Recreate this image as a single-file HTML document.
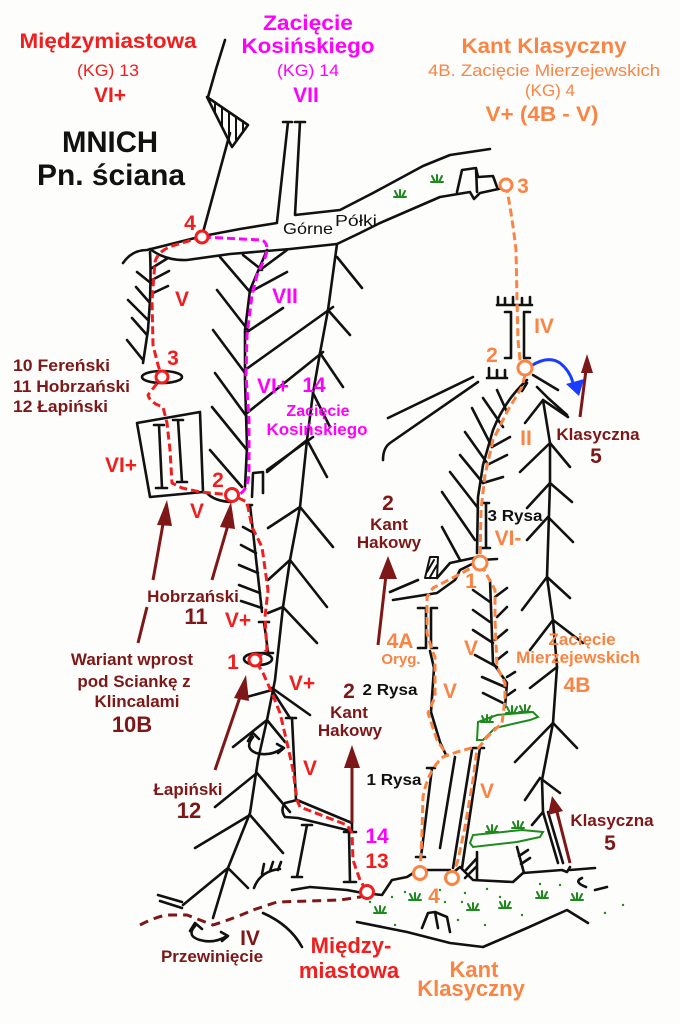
<!DOCTYPE html>
<html><head><meta charset="utf-8"><style>
html,body{margin:0;padding:0;background:#fdfdfb;}
svg{display:block;}
text{font-family:"Liberation Sans",Arial,sans-serif;font-weight:bold;}
.r{fill:#f01e1e}.m{fill:#f0f}.o{fill:#f98444}.d{fill:#7e1717}.k{fill:#111}
</style></head><body>
<svg width="680" height="1024" viewBox="0 0 680 1024" xmlns="http://www.w3.org/2000/svg">
<rect width="680" height="1024" fill="#fdfdfb"/>

<!-- black rock lines -->
<g fill="none" stroke="#111" stroke-width="2.6" stroke-linecap="round" stroke-linejoin="round">
<!-- summit -->
<path d="M225,40 Q216,68 208,97"/>
<path d="M207,97 L248,125 L232,147 Z"/>
<path d="M215,102 L215,113 M222,107 L222,127 M229,112 L229,141 M236,117 L236,141 M243,121 L243,132" stroke-width="2"/>
<path d="M230,133 L202,236"/>
<!-- Górne pillars -->
<path d="M283,122 L292,122 M288,122 L277,222"/>
<path d="M295,122 L305,122 M300,122 L295,215 L340,210 L373,193 L423,166 L450,155 L490,149"/>
<!-- ledge upper -->
<path d="M123,263 Q132,250 147,250 L203,236 L240,229 L277,223"/>
<!-- ledge lower -->
<path d="M150,249 Q166,261 187,260 L230,254 L290,249 L337,244 L360,233 L380,223 L440,197 L470,192 L474,199 L480,193 L503,188"/>
<!-- castle -->
<path d="M457,192 L462,170 L476,168 L478,177 L493,176 L497,187 M476,168 L477,192"/>

<!-- left herringbone along red route -->
<path d="M150,252 Q151,270 150,300 L148,330 L143,363"/>
<path d="M137,272 L152,284 M136,287 L150,303 M128,300 L148,320 M132,318 L147,335 M127,340 L143,360"/>
<path d="M152,268 L168,258 M152,280 L169,271 M151,294 L168,286"/>

<!-- magenta spine + herringbone -->
<path d="M267,250 L250,290 L245,330 L245,380 L247,447 L245,487"/>
<path d="M220,257 L250,292 M217,290 L248,330 M213,330 L245,373 M215,373 L247,417 M212,407 L247,450 M210,450 L242,487"/>
<path d="M243,255 L262,270 M260,270 L287,250 M250,292 L287,272 M247,332 L283,308 M245,370 L333,307 M247,413 L323,352 M267,470 L313,437"/>

<!-- big tree trunk -->
<path d="M337,244 L328,310 L320,353 L313,393 L307,440 L300,507 L290,560 L283,607 L275,680 L267,720 L258,760 L250,813 L228,868 L213,918"/>
<path d="M337,257 L362,288 M328,310 L350,335 M320,353 L343,387 M313,393 L330,427
M307,440 L327,477 M307,440 L267,472
M300,507 L333,547 M300,507 L268,528
M290,560 L327,607 M290,560 L268,580
M283,607 L317,643 M283,607 L268,613
M272,688 L310,715 M272,690 L243,698 M272,690 L290,718
M267,720 L285,742 M267,720 L233,747
M257,773 L290,812 M257,773 L215,807
M250,815 L283,853 M250,815 L195,848
M228,868 L248,888 M228,868 L183,905"/>
<path d="M286,718 L296,718"/>

<!-- red route spine 2-1 -->
<path d="M247,505 L252,505 M250,505 L262,612"/>
<path d="M241,545 L256,553 M239,565 L258,573 M239,585 L260,593 M241,601 L262,608 M243,527 L254,533"/>
<path d="M259,622 L269,622 M264,622 L268,652 M262,653 L273,653"/>
<path d="M252,497 L253,473 L263,472 L263,493"/>
<path d="M207,493 Q214,501 231,502"/>
<!-- box -->
<path d="M137,423 L200,412 L203,492 L150,497 Z"/>
<path d="M154,425 L164,425 M159,425 L162,488 M156,488 L167,488 M173,420 L183,420 M178,420 L182,482 M177,482 L187,482"/>
<!-- ovals -->
<ellipse cx="162" cy="377" rx="20" ry="6"/>
<ellipse cx="258" cy="659" rx="14" ry="6"/>

<!-- slab and brackets bottom left -->
<path d="M285,803 L297,800 L352,823 L352,830 L347,830 L298,818 L285,817 Q280,810 285,803 Z"/>
<path d="M292,718 L296,800"/>
<path d="M302,825 L312,825 M307,825 L297,877 M292,877 L302,877"/>
<path d="M344,832 L356,832 M349,832 L350,882 M344,882 L356,882"/>
<!-- ground -->
<path d="M292,890 L310,887 L347,890 L363,893 L382,895 L392,880 L407,877 L415,872 L420,871"/>
<path d="M425,870 L450,870"/>
<path d="M455,871 L460,867 L473,880 L513,882 L523,873 L562,870 L567,872 L570,867 M570,870 L595,868"/>
<path d="M582,878 Q573,882 586,887 M595,890 L607,887"/>
<path d="M357,922 L407,932 L450,943 L483,947 L527,928 L567,910 L588,923"/>
<path d="M422,928 L428,913 L435,912 L438,928 M435,912 L447,917 L450,932"/>
<path d="M477,852 L477,880 M466,870 L477,858 M465,878 L477,866"/>
<path d="M517,847 L524,873 M519,856 L528,850 M521,864 L530,858"/>
<!-- other bottom-left -->
<path d="M158,895 L182,902 M160,901 L182,908"/>
<path d="M263,913 Q290,925 302,947"/>
<path d="M254,888 Q260,871 280,869 M262,874 L264,864 M270,871 L273,862 M278,870 L281,862"/>
<!-- swirls -->
<path d="M253,737 Q244,748 256,753 Q270,757 283,748 M248,741 L253,733 L259,739 M277,744 L284,748 L278,753"/>
<path d="M195,926 Q186,936 200,940 Q214,944 227,936 M190,931 L195,923 L202,929 M221,932 L228,936 L222,941"/>

<!-- Kant column -->
<path d="M390,592 L418,580"/>
<path d="M393,600 L437,593 L455,580 L460,570 L480,560 L497,559"/>
<path d="M425,578 L430,557 L438,557 L437,578 Z M427,572 L434,560 M430,577 L437,565" stroke-width="2"/>
<path d="M437,578 L450,563 L478,557"/>
<path d="M418,608 L426,608 L426,648 L418,648 M437,608 L431,608 L431,648 L437,648"/>
<path d="M430,651 L434,668 L431,712 L440,742 L446,755"/>
<path d="M455,757 L440,848 M472,750 L453,868 M480,748 L462,868 M473,748 L484,748"/>
<path d="M427,768 L435,768 M432,768 L421,857 M416,857 L425,857"/>
<!-- Kant spine 2-1 -->
<path d="M527,380 Q505,400 493,430 L483,465 L478,497 L477,553"/>
<path d="M497,390 L507,412 M483,398 L503,427 M472,408 L492,447 M465,432 L487,463 M460,455 L483,483 M450,472 L478,508 M442,492 L475,540 M442,527 L460,560"/>
<path d="M492,447 L510,437 M487,465 L507,455 M483,483 L503,477"/>
<path d="M483,503 L489,503 M486,503 L486,548 M481,548 L490,548"/>
<!-- spine 1-lower -->
<path d="M490,580 L493,663 L507,683 L505,707"/>
<path d="M473,590 L490,602 M473,610 L490,622 M473,630 L493,643 M475,655 L497,667 M482,677 L505,687 M483,693 L503,703"/>
<path d="M495,597 L507,588 M497,617 L507,607 M495,640 L507,630 M497,660 L507,652 M507,677 L515,672 M508,695 L515,690"/>
<!-- right trunk -->
<path d="M543,400 L550,443 L550,483 L547,577 L553,620 L557,667 L553,723 L542,780 L543,812 L558,863"/>
<path d="M548,812 L563,863"/>
<path d="M543,400 L525,423 M543,400 L568,417
M550,443 L520,472 M550,443 L570,467
M550,483 L527,508 M550,483 L572,502
M548,517 L527,540 M548,517 L573,542
M547,577 L522,610 M547,577 L570,598
M553,620 L530,650 M553,620 L583,643
M557,667 L530,688
M553,723 L515,762 M553,723 L577,748
M540,778 L525,800 M540,778 L560,793
M543,812 L532,825"/>
<path d="M533,375 L558,390 M537,387 L548,398 L567,415 M527,383 L522,391"/>
<!-- top right of upper section -->
<path d="M388,418 L473,377"/>
<path d="M383,460 Q383,448 390,443 L478,382"/>
<path d="M487,378 L507,378 M489,378 L489,368 M497,378 L497,370 M505,378 L505,370"/>
<path d="M497,305 L532,305 M498,305 L498,297 M505,305 L505,298 M513,305 L513,297 M522,305 L522,298 M530,305 L530,297"/>
<path d="M505,312 L511,312 L511,358 L505,358 M530,312 L524,312 L524,358 L530,358"/>
</g>

<!-- green -->
<g fill="none" stroke="#1e8a1e" stroke-width="2" stroke-linecap="round">
<path d="M470,843 L473,835 L522,830 L543,832 L540,837 L517,842 L473,847 Z"/>
<path d="M477,740 L478,722 L497,715 L533,712 L538,717 L530,720 L495,728 L483,740 Z"/>
<path d="M394,197 L406,197 M395,191 L398,197 M400,190 L400,197 M405,191 L402,197
M431,182 L443,182 M432,176 L435,182 M437,175 L437,182 M442,176 L439,182
M409,900 L421,900 M410,894 L413,900 M415,893 L415,900 M420,894 L417,900
M374,913 L386,913 M375,907 L378,913 M380,906 L380,913 M385,907 L382,913
M467,910 L479,910 M468,904 L471,910 M473,903 L473,910 M478,904 L475,910
M499,908 L511,908 M500,902 L503,908 M505,901 L505,908 M510,902 L507,908
M536,898 L548,898 M537,892 L540,898 M542,891 L542,898 M547,892 L544,898
M571,900 L583,900 M572,894 L575,900 M577,893 L577,900 M582,894 L579,900
M486,832 L498,832 M487,826 L490,832 M492,825 L492,832 M497,826 L494,832
M512,828 L524,828 M513,822 L516,828 M518,821 L518,828 M523,822 L520,828
M481,722 L493,722 M482,716 L485,722 M487,715 L487,722 M492,716 L489,722
M506,713 L518,713 M507,707 L510,713 M512,706 L512,713 M517,707 L514,713
M519,712 L531,712 M520,706 L523,712 M525,705 L525,712 M530,706 L527,712"/>
</g>
<g fill="#1e8a1e">
<circle cx="392" cy="897" r="1.2"/><circle cx="405" cy="892" r="1.2"/><circle cx="440" cy="890" r="1.2"/><circle cx="465" cy="893" r="1.2"/><circle cx="487" cy="889" r="1.2"/><circle cx="462" cy="902" r="1.2"/><circle cx="540" cy="884" r="1.2"/><circle cx="560" cy="885" r="1.2"/><circle cx="605" cy="913" r="1.2"/><circle cx="623" cy="905" r="1.2"/><circle cx="395" cy="925" r="1.2"/><circle cx="458" cy="920" r="1.2"/><circle cx="485" cy="925" r="1.2"/><circle cx="522" cy="915" r="1.2"/><circle cx="370" cy="902" r="1.2"/><circle cx="445" cy="902" r="1.2"/><circle cx="500" cy="897" r="1.2"/>
</g>

<!-- routes -->
<g fill="none" stroke-width="3" stroke-linecap="butt" stroke-linejoin="round">
<path stroke="#7e1717" stroke-dasharray="9 6" d="M140,925 Q155,917 167,915 L187,915 Q200,920 213,925 Q235,918 253,910 L277,902 L340,900 L360,897 L367,892"/>
<path stroke="#f0f" stroke-dasharray="8 4" d="M203,237 L262,240 Q270,244 265,258 L257,275 L252,295 L247,335 L246,375 L249,420 L249,470 Q249,490 238,495"/>
<path stroke="#f01e1e" stroke-dasharray="8 4" d="M202,237 L175,245 Q158,250 155,262 L152,300 L153,345 L158,365 L162,377 L155,386 L148,395 Q150,403 163,407 L167,423 L170,450 L172,483 L182,488 L200,492 L232,495 L247,502 L252,527 L262,547 L268,590 L265,617 L267,650 L255,660 L263,673 L272,693 L280,713 L288,747 L293,770 L297,800 L300,807 L347,825 L352,833 L353,860 L360,880 L367,892"/>
<g stroke="#f98444" stroke-dasharray="8 4">
<path d="M506,185 Q512,215 516,250 L517,300 L518,340 L520,360 L525,368"/>
<path d="M525,375 L522,387 L508,410 L493,440 L485,475 L481,510 L480,563"/>
<path d="M480,563 L462,573 L433,588 L427,597 L427,633 L432,650 L435,657 L435,697 L428,713 L437,740 L447,755"/>
<path d="M420,873 L422,833 L423,797 Q428,770 443,757 L457,752 L475,747"/>
<path d="M452,878 L458,860 L465,827 L473,780 L477,750 L487,737 L502,723 L505,700 L505,683 L497,667 L495,620 L495,590 L488,577 L480,563"/>
</g>
</g>

<!-- arrows -->
<g stroke="#7e1717" stroke-width="3" fill="none">
<path d="M580,417 L586,370"/>
<path d="M570,863 L557,812"/>
<path d="M378,645 L386,575"/>
<path d="M352,823 L352,765"/>
<path d="M212,580 L228,525"/>
<path d="M138,643 L147,607 M153,580 L163,524"/>
<path d="M215,770 L240,697"/>
</g>
<g fill="#7e1717">
<polygon points="587,354 581,373 593,373"/>
<polygon points="552,796 548,815 563,811"/>
<polygon points="388,556 379,579 397,579"/>
<polygon points="352,745 344,768 360,768"/>
<polygon points="231,502 220,527 235,529"/>
<polygon points="167,500 157,525 172,526"/>
<polygon points="246,675 234,698 249,701"/>
</g>
<path d="M531,366 Q548,355 560,363 Q570,371 573,383" fill="none" stroke="#1a3cff" stroke-width="3"/>
<polygon points="579,396 566,384 584,379" fill="#1a3cff"/>

<!-- circles -->
<g fill="#fff" stroke-width="3">
<circle cx="202" cy="237" r="6" stroke="#f01e1e"/>
<circle cx="162" cy="377" r="6" stroke="#f01e1e"/>
<circle cx="232" cy="495" r="6.5" stroke="#f01e1e"/>
<circle cx="255" cy="660" r="6" stroke="#f01e1e"/>
<circle cx="367" cy="892" r="6.5" stroke="#f01e1e"/>
<circle cx="506" cy="185" r="6" stroke="#f98444"/>
<circle cx="525" cy="368" r="7" stroke="#f98444"/>
<circle cx="480" cy="563" r="7" stroke="#f98444"/>
<circle cx="420" cy="873" r="6.5" stroke="#f98444"/>
<circle cx="452" cy="878" r="6.5" stroke="#f98444"/>
</g>

<!-- headers -->
<text class="r" x="108" y="48" font-size="21" text-anchor="middle" textLength="177" lengthAdjust="spacingAndGlyphs">Międzymiastowa</text>
<text class="r" x="108" y="76" font-size="17" style="font-weight:normal" text-anchor="middle" textLength="62" lengthAdjust="spacingAndGlyphs">(KG) 13</text>
<text class="r" x="110" y="102" font-size="21" text-anchor="middle">VI+</text>
<text class="k" x="110" y="152" font-size="30" text-anchor="middle" textLength="96" lengthAdjust="spacingAndGlyphs">MNICH</text>
<text class="k" x="111" y="185" font-size="30" text-anchor="middle" textLength="148" lengthAdjust="spacingAndGlyphs">Pn. ściana</text>

<text class="m" x="308" y="30" font-size="21" text-anchor="middle" textLength="90" lengthAdjust="spacingAndGlyphs">Zacięcie</text>
<text class="m" x="308" y="53" font-size="21" text-anchor="middle" textLength="133" lengthAdjust="spacingAndGlyphs">Kosińskiego</text>
<text class="m" x="308" y="76" font-size="17" style="font-weight:normal" text-anchor="middle" textLength="62" lengthAdjust="spacingAndGlyphs">(KG) 14</text>
<text class="m" x="306" y="102" font-size="21" text-anchor="middle">VII</text>

<text class="o" x="544" y="53" font-size="21" text-anchor="middle" textLength="165" lengthAdjust="spacingAndGlyphs">Kant Klasyczny</text>
<text class="o" x="544" y="76" font-size="17" style="font-weight:normal" text-anchor="middle" textLength="232" lengthAdjust="spacingAndGlyphs">4B. Zacięcie Mierzejewskich</text>
<text class="o" x="550" y="96" font-size="17" style="font-weight:normal" text-anchor="middle" textLength="50" lengthAdjust="spacingAndGlyphs">(KG) 4</text>
<text class="o" x="542" y="121" font-size="21" text-anchor="middle" textLength="113" lengthAdjust="spacingAndGlyphs">V+ (4B - V)</text>

<!-- black labels -->
<text class="k" x="308" y="234" font-size="16" text-anchor="middle" textLength="50" lengthAdjust="spacingAndGlyphs" style="font-weight:normal">Górne</text>
<text class="k" x="356" y="226" font-size="16" text-anchor="middle" textLength="42" lengthAdjust="spacingAndGlyphs" style="font-weight:normal">Półki</text>
<text class="k" x="515" y="521" font-size="16" text-anchor="middle" textLength="55" lengthAdjust="spacingAndGlyphs">3 Rysa</text>
<text class="k" x="390" y="695" font-size="16" text-anchor="middle" textLength="55" lengthAdjust="spacingAndGlyphs">2 Rysa</text>
<text class="k" x="394" y="785" font-size="16" text-anchor="middle" textLength="55" lengthAdjust="spacingAndGlyphs">1 Rysa</text>

<!-- dark red labels -->
<g class="d" font-size="17">
<text x="13" y="371" textLength="97" lengthAdjust="spacingAndGlyphs">10 Fereński</text>
<text x="13" y="392" textLength="117" lengthAdjust="spacingAndGlyphs">11 Hobrzański</text>
<text x="13" y="412" textLength="95" lengthAdjust="spacingAndGlyphs">12 Łapiński</text>
<text x="598" y="440" text-anchor="middle">Klasyczna</text>
<text x="596" y="463" font-size="21" text-anchor="middle">5</text>
<text x="388" y="510" font-size="21" text-anchor="middle">2</text>
<text x="389" y="530" text-anchor="middle">Kant</text>
<text x="389" y="548" text-anchor="middle">Hakowy</text>
<text x="193" y="602" text-anchor="middle">Hobrzański</text>
<text x="196" y="624" font-size="22" text-anchor="middle">11</text>
<text x="132" y="665" text-anchor="middle">Wariant wprost</text>
<text x="134" y="687" text-anchor="middle">pod Sciankę z</text>
<text x="137" y="707" text-anchor="middle">Klincalami</text>
<text x="132" y="732" font-size="22" text-anchor="middle">10B</text>
<text x="188" y="795" text-anchor="middle">Łapiński</text>
<text x="189" y="818" font-size="22" text-anchor="middle">12</text>
<text x="250" y="945" font-size="21" text-anchor="middle">IV</text>
<text x="212" y="962" text-anchor="middle">Przewinięcie</text>
<text x="349" y="698" font-size="21" text-anchor="middle">2</text>
<text x="349" y="718" text-anchor="middle">Kant</text>
<text x="350" y="736" text-anchor="middle">Hakowy</text>
<text x="612" y="826" text-anchor="middle">Klasyczna</text>
<text x="610" y="850" font-size="21" text-anchor="middle">5</text>
</g>

<!-- red labels -->
<g class="r" font-size="21">
<text x="190" y="230" text-anchor="middle">4</text>
<text x="182" y="306" text-anchor="middle">V</text>
<text x="173" y="365" text-anchor="middle">3</text>
<text x="121" y="472" text-anchor="middle">VI+</text>
<text x="218" y="487" text-anchor="middle">2</text>
<text x="197" y="518" text-anchor="middle">V</text>
<text x="238" y="627" text-anchor="middle">V+</text>
<text x="233" y="669" text-anchor="middle">1</text>
<text x="302" y="690" text-anchor="middle">V+</text>
<text x="310" y="775" text-anchor="middle">V</text>
<text x="377" y="868" text-anchor="middle">13</text>
<text x="351" y="953" font-size="22" text-anchor="middle">Między-</text>
<text x="349" y="978" font-size="22" text-anchor="middle">miastowa</text>
</g>

<!-- magenta labels -->
<g class="m" font-size="21">
<text x="285" y="303" text-anchor="middle">VII</text>
<text x="273" y="393" text-anchor="middle">VI+</text>
<text x="314" y="392" text-anchor="middle">14</text>
<text x="318" y="416" font-size="16" text-anchor="middle">Zacięcie</text>
<text x="317" y="435" font-size="17" text-anchor="middle">Kosińskiego</text>
<text x="377" y="843" text-anchor="middle">14</text>
</g>

<!-- orange labels -->
<g class="o" font-size="21">
<text x="523" y="193" text-anchor="middle">3</text>
<text x="544" y="333" text-anchor="middle">IV</text>
<text x="492" y="362" text-anchor="middle">2</text>
<text x="526" y="445" text-anchor="middle">II</text>
<text x="508" y="545" text-anchor="middle">VI-</text>
<text x="471" y="588" text-anchor="middle">1</text>
<text x="400" y="648" text-anchor="middle">4A</text>
<text x="401" y="664" font-size="15" text-anchor="middle">Oryg.</text>
<text x="471" y="655" text-anchor="middle">V</text>
<text x="450" y="698" text-anchor="middle">V</text>
<text x="582" y="645" font-size="17" text-anchor="middle">Zacięcie</text>
<text x="578" y="663" font-size="17" text-anchor="middle">Mierzejewskich</text>
<text x="577" y="692" text-anchor="middle">4B</text>
<text x="487" y="798" text-anchor="middle">V</text>
<text x="434" y="903" text-anchor="middle">4</text>
<text x="474" y="977" font-size="22" text-anchor="middle">Kant</text>
<text x="471" y="996" font-size="22" text-anchor="middle">Klasyczny</text>
</g>
</svg>
</body></html>
